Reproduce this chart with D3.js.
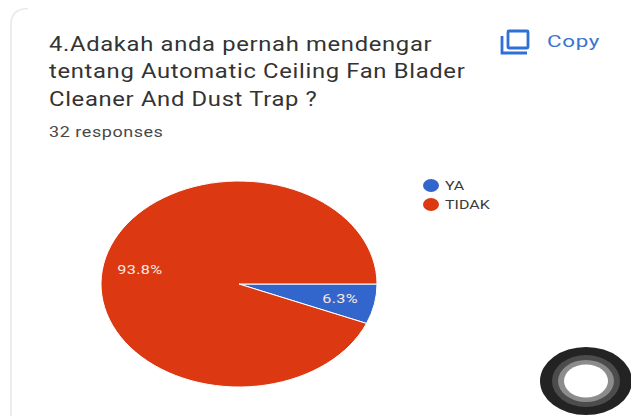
<!DOCTYPE html>
<html>
<head>
<meta charset="utf-8">
<script src="https://cdn.jsdelivr.net/npm/d3@7"></script>
<style>
  html, body { margin: 0; padding: 0; background: #fff; }
  svg { display: block; }
  text { font-family: Roboto, "Noto Sans", sans-serif; }
</style>
</head>
<body>
<svg id="chart" width="631" height="416"></svg>
<script>
const categories = ["YA", "TIDAK"];
const responses = [2, 30];
const sliceLabels = ["6.3%", "93.8%"];
const sliceColors = ["#3366cc", "#dc3912"];
const titleLines = [
  "4.Adakah anda pernah mendengar",
  "tentang Automatic Ceiling Fan Blader",
  "Cleaner And Dust Trap ?"
];
const subtitle = "32 responses";
const copyLabel = "Copy";
const dialRings = [
  { rx: 46, ry: 34, fill: "#232323" },
  { rx: 34, ry: 26, fill: "#4c4c4c" },
  { rx: 28, ry: 21, fill: "#8c8c8c" },
  { rx: 22, ry: 16.5, fill: "#ffffff" }
];

const svg = d3.select("#chart");

// The whole layout is wider than tall, so text is widened to suit
const placeText = (sel, x, y, widen) =>
  sel.attr("transform", `translate(${x},${y}) scale(${widen},1)`);

// Card outline: top-left corner and left edge
svg.append("path")
  .attr("d", "M11 416 V24 Q11 9 28 8.5")
  .attr("fill", "none")
  .attr("stroke", "#e9e9e9")
  .attr("stroke-width", 1.6);

// Question heading
svg.append("g").selectAll("text")
  .data(titleLines)
  .join("text")
  .call(s => s.each(function (d, i) {
    placeText(d3.select(this), 49, 50.5 + i * 27.5, 1.22);
  }))
  .attr("font-size", 19.5)
  .attr("letter-spacing", 0.55)
  .attr("fill", "#333333")
  .text(d => d);

svg.append("text")
  .call(placeText, 49, 137, 1.24)
  .attr("font-size", 14.5)
  .attr("letter-spacing", 0.45)
  .attr("fill", "#484848")
  .text(subtitle);

// Copy button
const copyBtn = svg.append("g")
  .attr("fill", "none")
  .attr("stroke", "#2f6fd6")
  .attr("stroke-width", 2.8);
copyBtn.append("rect")
  .attr("x", 508).attr("y", 31).attr("width", 20).attr("height", 17).attr("rx", 1);
copyBtn.append("path").attr("d", "M502 36 V53 H527");
svg.append("text")
  .call(placeText, 547, 47, 1.32)
  .attr("font-size", 17)
  .attr("letter-spacing", 0.5)
  .attr("fill", "#3a73d0")
  .text(copyLabel);

// Pie, wider than tall, first slice starting at three o'clock
const pieRadius = 103;
const stretchX = 138 / 103;
const pie = d3.pie().sort(null).startAngle(Math.PI / 2).endAngle(Math.PI / 2 + 2 * Math.PI);
const arcs = pie(responses);
const arc = d3.arc().innerRadius(0).outerRadius(pieRadius);

const pieGroup = svg.append("g")
  .attr("transform", `translate(239,284) scale(${stretchX},1)`);

pieGroup.selectAll("path")
  .data(arcs)
  .join("path")
  .attr("d", arc)
  .attr("fill", (d, i) => sliceColors[i])
  .attr("stroke", "#fff")
  .attr("stroke-width", 1)
  .attr("vector-effect", "non-scaling-stroke");

const labelArc = d3.arc().innerRadius(pieRadius * 0.74).outerRadius(pieRadius * 0.74);
svg.append("g").selectAll("text")
  .data(arcs)
  .join("text")
  .call(s => s.each(function (d) {
    const [cx, cy] = labelArc.centroid(d);
    placeText(d3.select(this), 239 + cx * stretchX + 1, 284 + cy + 1, 1.25);
  }))
  .attr("text-anchor", "middle")
  .attr("dominant-baseline", "middle")
  .attr("font-size", 13)
  .attr("letter-spacing", 0.3)
  .attr("fill", "#f6e6e0")
  .text((d, i) => sliceLabels[i]);

// Legend
const legend = svg.append("g").selectAll("g")
  .data(categories)
  .join("g")
  .attr("transform", (d, i) => `translate(431,${185.5 + i * 19})`);
legend.append("ellipse")
  .attr("rx", 8).attr("ry", 6.5)
  .attr("fill", (d, i) => sliceColors[i]);
legend.append("text")
  .attr("transform", "translate(14,0) scale(1.28,1)")
  .attr("dy", "0.36em")
  .attr("font-size", 12.5)
  .attr("fill", "#3a3a3a")
  .text(d => d);

// Round dial in the lower-right corner
svg.append("g").selectAll("ellipse")
  .data(dialRings)
  .join("ellipse")
  .attr("cx", 586).attr("cy", 381)
  .attr("rx", d => d.rx).attr("ry", d => d.ry)
  .attr("fill", d => d.fill);
</script>
</body>
</html>
